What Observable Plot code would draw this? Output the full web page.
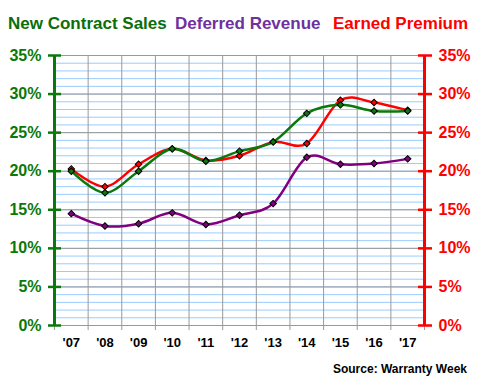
<!DOCTYPE html>
<html><head><meta charset="utf-8">
<script src="https://cdn.jsdelivr.net/npm/d3@7"></script>
<script src="https://cdn.jsdelivr.net/npm/@observablehq/plot@0.6"></script>
<style>
body{margin:0;background:#fff;font-family:Arial,"Liberation Sans",sans-serif}
#wrap{position:relative;width:480px;height:390px;overflow:hidden;background:#fff}
#wrap svg{position:absolute;left:0;top:0}
.t{position:absolute;top:14px;font-weight:bold;font-size:17px;white-space:nowrap;line-height:20px}
.src{position:absolute;right:13px;top:362px;font-weight:bold;font-size:12px;line-height:14px;color:#000;white-space:nowrap}
</style></head><body>
<div id="wrap">
<div class="t" style="left:8px;color:#0a6e0a">New Contract Sales</div>
<div class="t" style="left:175px;color:#7030a0">Deferred Revenue</div>
<div class="t" style="left:333px;color:#ff0000">Earned Premium</div>
<div class="src">Source: Warranty Week</div>
</div>
<script>
const years = ["'07","'08","'09","'10","'11","'12","'13","'14","'15","'16","'17"];
const newContractSales = [20.0,17.2,20.0,22.9,21.3,22.6,23.8,27.5,28.6,27.8,27.8];
const deferredRevenue = [14.5,12.9,13.2,14.6,13.1,14.3,15.8,21.8,20.9,21.0,21.6];
const earnedPremium = [20.3,18.0,20.9,22.9,21.4,22.0,23.8,23.6,29.2,28.9,27.9];
const yTicks = [0,5,10,15,20,25,30,35];

const green = "#0a780a", purple = "#800080", red = "#ff0000";
const rows = (vals) => vals.map((v, i) => ({i, v}));
const series = [
  {data: rows(deferredRevenue), color: purple},
  {data: rows(earnedPremium), color: red},
  {data: rows(newContractSales), color: green}
];

const chart = Plot.plot({
  width: 480, height: 390,
  marginLeft: 54, marginRight: 56, marginTop: 55, marginBottom: 65,
  x: {domain: [-0.5, years.length - 0.5]},
  y: {domain: [0, 35]},
  style: {fontFamily: "Arial, 'Liberation Sans', sans-serif", background: "transparent", overflow: "visible"},
  marks: [
    Plot.ruleY(d3.range(0, 36, 1), {stroke: "#99ccff", strokeWidth: 1}),
    Plot.ruleY(yTicks, {stroke: "#999", strokeWidth: 1}),
    Plot.ruleX(d3.range(-0.5, years.length, 1), {stroke: "#999", strokeWidth: 1}),
    Plot.axisX({ticks: d3.range(-0.5, years.length, 1), tickSize: 5, tickFormat: () => "", color: "#999", label: null}),
    Plot.axisX({ticks: d3.range(years.length), tickSize: 0, tickPadding: 12, tickFormat: i => years[i], color: "#000", fontWeight: "bold", fontSize: 13, label: null}),
    Plot.axisY({anchor: "left", ticks: yTicks, tickSize: 13, dx: 7, tickFormat: () => "", color: green, strokeWidth: 2.5, label: null}),
    Plot.axisY({anchor: "left", ticks: yTicks, tickSize: 0, tickPadding: 13, tickFormat: d => d + "%", color: green, fontWeight: "bold", fontSize: 16, label: null}),
    Plot.axisY({anchor: "right", ticks: yTicks, tickSize: 14, dx: -7, tickFormat: () => "", color: red, strokeWidth: 2.5, label: null}),
    Plot.axisY({anchor: "right", ticks: yTicks, tickSize: 0, tickPadding: 14, tickFormat: d => d + "%", color: red, fontWeight: "bold", fontSize: 16, label: null}),
    Plot.ruleX([-0.5], {stroke: green, strokeWidth: 3}),
    Plot.ruleX([years.length - 0.5], {stroke: red, strokeWidth: 3}),
    ...series.map(s => Plot.line(s.data, {x: "i", y: "v", stroke: s.color, strokeWidth: 2.5, curve: "cardinal"})),
    ...series.map(s => Plot.dot(s.data, {x: "i", y: "v", symbol: "square", rotate: 45, r: 2.6, fill: s.color, stroke: "#000", strokeWidth: 1}))
  ]
});
document.getElementById("wrap").prepend(chart);
</script>
</body></html>
